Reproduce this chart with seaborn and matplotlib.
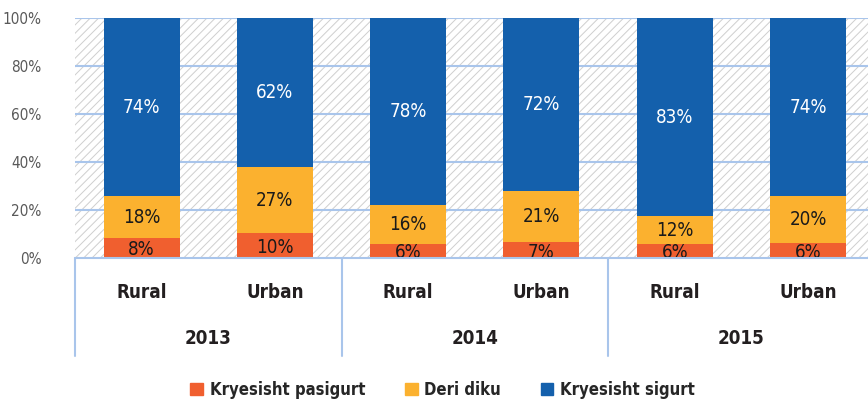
import numpy as np
import pandas as pd
import matplotlib
matplotlib.use("Agg")
import matplotlib.pyplot as plt
import seaborn as sns
from matplotlib.patches import Rectangle, Patch

# Data (percent of respondents)
years = ["2013", "2014", "2015"]
areas = ["Rural", "Urban"]
series = ["Kryesisht pasigurt", "Deri diku", "Kryesisht sigurt"]
pasigurt = [8.3, 10.4, 5.8, 6.5, 5.8, 6.2]
deri_diku = [17.5, 27.4, 16.2, 21.4, 11.5, 19.6]
sigurt = [74.2, 62.2, 78.0, 72.1, 82.7, 74.2]
labels_pasigurt = ["8%", "10%", "6%", "7%", "6%", "6%"]
labels_deri = ["18%", "27%", "16%", "21%", "12%", "20%"]
labels_sigurt = ["74%", "62%", "78%", "72%", "83%", "74%"]

colors = ["#F05F2F", "#FBB12F", "#1460AC"]
grid_blue = "#A9C5EB"

sns.set_theme(style="white")
plt.rcParams["font.family"] = ["DejaVu Sans"]
plt.rcParams["font.stretch"] = "condensed"
plt.rcParams["hatch.linewidth"] = 0.7
plt.rcParams["hatch.color"] = "#CFCFCF"

slots = [f"{y} {a}" for y in years for a in areas]
df = pd.DataFrame({"slot": slots, "pasigurt": pasigurt,
                   "deri": deri_diku, "sigurt": sigurt})
df["c1"] = df["pasigurt"]
df["c2"] = df["pasigurt"] + df["deri"]
df["c3"] = df["c2"] + df["sigurt"]

fig = plt.figure(figsize=(8.68, 4.04), dpi=100)
ax = fig.add_axes([75 / 868, 146 / 404, 793 / 868, 240 / 404])

# hatched background
ax.add_patch(Rectangle((0, 0), 1, 1, transform=ax.transAxes, facecolor="white",
                       edgecolor="#CFCFCF", hatch="////", linewidth=0, zorder=0))
for v in range(20, 101, 20):
    ax.axhline(v, color=grid_blue, lw=1.5, zorder=1)

# overlay cumulative totals (largest first) to stack
for col, c in zip(["c3", "c2", "c1"], colors[::-1]):
    sns.barplot(data=df, x="slot", y=col, order=slots, color=c, width=0.57,
                saturation=1, ax=ax, zorder=2, linewidth=0)

for i in range(len(slots)):
    ax.text(i, df["c1"][i] / 2 - 0.8, labels_pasigurt[i], ha="center", va="center",
            fontsize=13.5, color="#1a1a1a", zorder=3)
    ax.text(i, (df["c1"][i] + df["c2"][i]) / 2, labels_deri[i], ha="center", va="center",
            fontsize=13.5, color="#1a1a1a", zorder=3)
    ax.text(i, (df["c2"][i] + df["c3"][i]) / 2, labels_sigurt[i], ha="center", va="center",
            fontsize=13.5, color="white", zorder=3)

ax.set_xlim(-0.5, 5.45)
ax.set_ylim(0, 100)
ax.set_yticks(range(0, 101, 20))
ax.set_yticklabels([f"{v}%" for v in range(0, 101, 20)], fontsize=11, color="#595959")
ax.tick_params(axis="y", length=0, pad=24)
ax.set_xticks([])
ax.set_xlabel("")
ax.set_ylabel("")
for s in ax.spines.values():
    s.set_visible(False)
ax.axhline(0, color=grid_blue, lw=1.5, zorder=4, clip_on=False)

# two-level category axis
for i, slot in enumerate(slots):
    ax.text(i, -14.5, slot.split()[1], ha="center", va="center", fontsize=13.5,
            fontweight="bold", color="#231F20", clip_on=False)
for g, yr in enumerate(years):
    ax.text(2 * g + 0.5, -33.5, yr, ha="center", va="center", fontsize=13.5,
            fontweight="bold", color="#231F20", clip_on=False)
for xb in [-0.5, 1.5, 3.5]:
    ax.plot([xb, xb], [0, -41], color=grid_blue, lw=1.5, clip_on=False, zorder=4)

handles = [Patch(color=c) for c in colors]
fig.legend(handles, series, loc="center", bbox_to_anchor=(0.51, 0.035), ncol=3,
           frameon=False, handlelength=0.75, handleheight=0.75, columnspacing=2.4,
           handletextpad=0.4, prop={"size": 12, "weight": "bold"})

fig.savefig("out.png", dpi=100)
